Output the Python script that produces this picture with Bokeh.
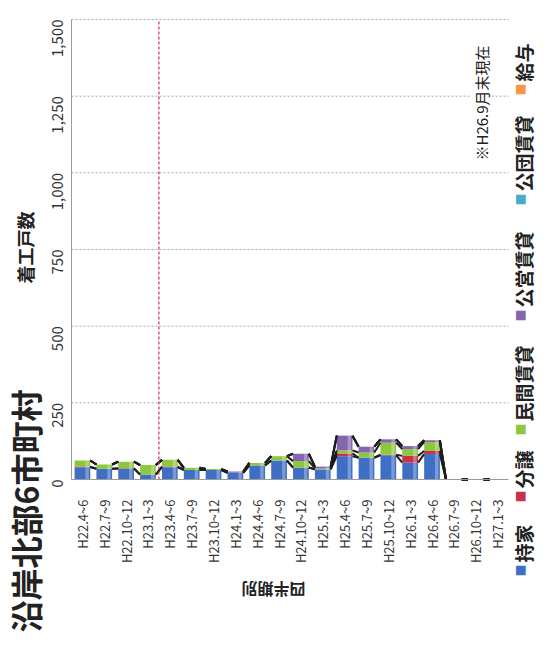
import math
from bokeh.plotting import figure
from bokeh.models import (ColumnDataSource, Range1d, FixedTicker,
                          NumeralTickFormatter, CustomJSTickFormatter, Label)
from bokeh.embed import file_html
from bokeh.resources import INLINE

# ---- data -----------------------------------------------------------------
categories = ["H22.4~6", "H22.7~9", "H22.10~12", "H23.1~3", "H23.4~6",
              "H23.7~9", "H23.10~12", "H24.1~3", "H24.4~6", "H24.7~9",
              "H24.10~12", "H25.1~3", "H25.4~6", "H25.7~9", "H25.10~12",
              "H26.1~3", "H26.4~6", "H26.7~9", "H26.10~12", "H27.1~3"]
series_names = ["持家", "分譲", "民間賃貸", "公営賃貸", "公団賃貸", "給与"]
mochiie   = [40, 35, 35, 16, 40, 31, 31, 22, 46, 62, 39, 33, 76, 71, 79, 55, 83, 0, 0, 0]
bunjo     = [2, 0, 2, 0, 2, 0, 0, 0, 0, 0, 0, 0, 9, 0, 2, 22, 10, 0, 0, 0]
minkan    = [20, 14, 21, 31, 22, 7, 3, 0, 8, 14, 21, 3, 10, 17, 39, 22, 29, 0, 0, 0]
koei      = [0, 0, 0, 0, 0, 0, 0, 4, 0, 0, 24, 6, 48, 19, 11, 10, 6, 0, 0, 0]
kodan     = [0] * 20
kyuyo     = [0] * 20
y_ticks = [0, 250, 500, 750, 1000, 1250, 1500]
title_text = "沿岸北部6市町村"
y_title = "着工戸数"
x_title = "四半期別"
note_text = "※H26.9月末現在"
quake_after = "H23.4~6"

colors = ["#3F6FC4", "#C8324F", "#8DC63F", "#8466AE", "#4BACC6", "#F79646"]
values = [mochiie, bunjo, minkan, koei, kodan, kyuyo]
keys = ["s%d" % i for i in range(6)]

n = len(categories)
xi = list(range(n))
data = {"x": xi, "cat": categories}
for k, v in zip(keys, values):
    data[k] = v
source = ColumnDataSource(data)

FONT = "Noto Sans CJK JP"

# ---- page geometry (page pixels, 8px page margin) --------------------------
W, H = 538, 639
PX_L, PX_R = 79, 516      # category span
PY_0, PY_MAX = 487, 27    # value 0 and value 1500
ymax = y_ticks[-1]
ux = (PX_R - PX_L) / n
uy = (PY_0 - PY_MAX) / ymax
x_lo = -0.5 - (PX_L - 8) / ux
x_hi = n - 0.5 + (8 + W - PX_R) / ux
y_lo = -(8 + H - PY_0) / uy
y_hi = ymax + (PY_MAX - 8) / uy

p = figure(width=W, height=H, output_backend="svg", toolbar_location=None,
           x_range=Range1d(x_lo, x_hi), y_range=Range1d(y_lo, y_hi),
           min_border=0)
p.outline_line_color = None
p.background_fill_color = "white"
p.border_fill_color = "white"
p.xgrid.visible = False
p.ygrid.visible = False

# dotted value gridlines over the category span
gl = y_ticks[1:]
p.segment(x0=[-0.5] * len(gl), x1=[n - 0.5] * len(gl), y0=gl, y1=gl,
          line_color="#A8A8A8", line_dash="2 2", line_width=1)

BW = 0.72
p.vbar_stack(keys, x="x", width=BW, source=source, color=colors,
             line_color=None)

# light sheen on the right side of every column (3-D look of the original)
totals = [sum(t) for t in zip(*values)]
p.vbar(x=[i + BW * 0.3 for i in xi], width=BW * 0.22, bottom=0, top=totals,
       fill_color="white", fill_alpha=0.3, line_color=None)

# series lines between neighbouring bars at every cumulative level
cum = [0] * n
for k, v in zip(keys, values):
    cum = [a + b for a, b in zip(cum, v)]
    p.segment(x0=[i + BW / 2 for i in xi[:-1]], y0=cum[:-1],
              x1=[i - BW / 2 for i in xi[1:]], y1=cum[1:],
              line_color="#1E1E1E", line_width=2)

# red dashed marker before the post-quake quarter
qx = categories.index(quake_after) - 0.5
p.segment(x0=[qx], x1=[qx], y0=[0], y1=[ymax], line_color="#D0304A",
          line_dash="3 2", line_width=1.2)

# axes drawn at fixed data locations inside the frame
p.yaxis.fixed_location = -0.5
p.yaxis.bounds = (0, ymax)
p.yaxis.ticker = FixedTicker(ticks=y_ticks)
p.yaxis.formatter = NumeralTickFormatter(format="0,0")
p.yaxis.major_label_orientation = math.pi / 2
p.yaxis.major_tick_line_color = None
p.yaxis.minor_tick_line_color = None
p.yaxis.major_label_standoff = 8
p.yaxis.axis_line_color = "#9A9A9A"
p.yaxis.major_label_text_font = FONT
p.yaxis.major_label_text_font_size = "15px"
p.yaxis.major_label_text_color = "#333333"

p.xaxis.fixed_location = 0
p.xaxis.bounds = (-0.5, n - 0.5)
p.xaxis.ticker = FixedTicker(ticks=xi)
p.xaxis.formatter = CustomJSTickFormatter(
    args=dict(cats=categories), code="return cats[Math.round(tick)] || '';")
p.xaxis.major_label_orientation = math.pi / 2
p.xaxis.major_tick_line_color = None
p.xaxis.minor_tick_line_color = None
p.xaxis.major_label_standoff = 14
p.xaxis.axis_line_color = "#9A9A9A"
p.xaxis.major_label_text_font = FONT
p.xaxis.major_label_text_font_size = "13px"
p.xaxis.major_label_text_color = "#333333"


def lab(text, px, py, size, color="#222222", bold=False, bg=None,
        angle=math.pi / 2, align="left"):
    # px, py: page pixels of the text anchor
    p.add_layout(Label(x=px - 8, y=(8 + H) - py, x_units="screen",
                       y_units="screen", text=text, angle=angle,
                       text_align=align, text_baseline="middle",
                       text_font=FONT, text_font_size=size, text_color=color,
                       text_font_style="bold" if bold else "normal",
                       background_fill_color=bg))


lab(title_text, 32, 640, "32px", bold=True)
lab(y_title, 32, 291, "18px", bold=True)
lab(x_title, 281, 597, "16px", bold=True, angle=math.pi, align="center")
lab(note_text, 489, 168, "15px", bg="white")

legend_sq = [578, 504, 437, 323, 207, 97]
for name, col, sy in zip(series_names, colors, legend_sq):
    lab("■", 528, sy + 6, "12px", color=col)
    lab(name, 531, sy - 8, "19px", bold=True)

open("out.html", "w").write(file_html(p, INLINE))
